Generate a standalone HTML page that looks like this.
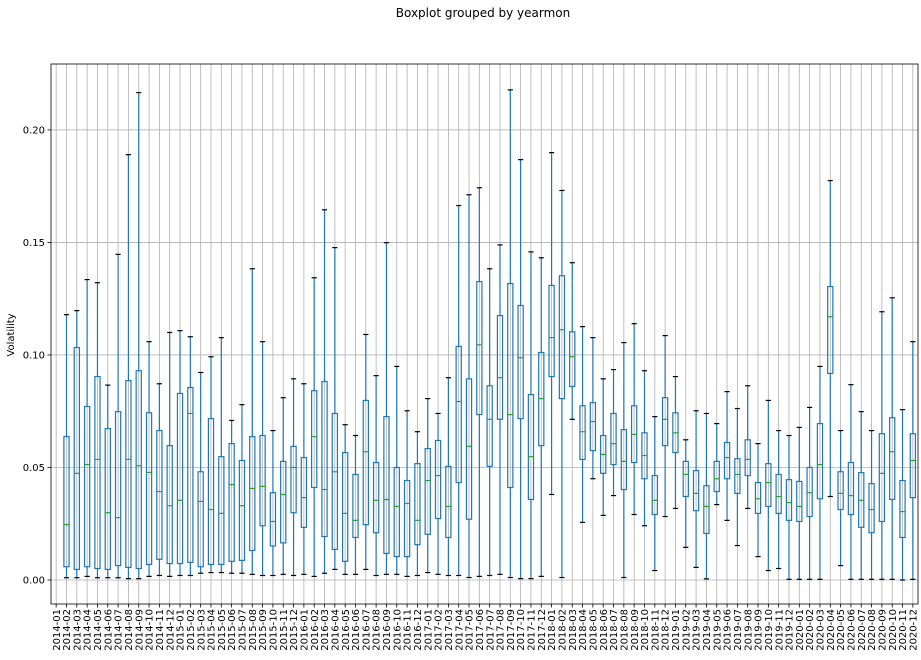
<!DOCTYPE html>
<html><head><meta charset="utf-8"><style>
html,body{margin:0;padding:0;background:#fff;}
svg{display:block;font-family:"DejaVu Sans","Liberation Sans",sans-serif;}
</style></head><body>
<svg id="chart" width="921" height="660" viewBox="0 0 921 660" xmlns="http://www.w3.org/2000/svg">
<text x="483" y="17" font-size="12" text-anchor="middle">Boxplot grouped by yearmon</text>
<text transform="translate(14,335) rotate(-90)" font-size="10" text-anchor="middle">Volatility</text>
<g id="grid"></g><g id="boxes"></g><g id="axes"></g>
</svg>
<script>
// Category index 0 (2014-01) has no data
const whiskerHigh = [null,0.1179,0.1197,0.1335,0.1321,0.0866,0.1447,0.1890,0.2166,0.1059,0.0872,0.1100,0.1108,0.1081,0.0922,0.0992,0.1077,0.0709,0.0779,0.1383,0.1059,0.0664,0.0810,0.0894,0.0872,0.1343,0.1645,0.1477,0.0690,0.0642,0.1091,0.0908,0.1499,0.0949,0.0752,0.0659,0.0806,0.0740,0.0899,0.1664,0.1712,0.1743,0.1383,0.1489,0.2178,0.1868,0.1458,0.1432,0.1899,0.1731,0.1410,0.1126,0.1077,0.0894,0.0935,0.1055,0.1139,0.0930,0.0726,0.1086,0.0904,0.0623,0.0752,0.0740,0.0695,0.0837,0.0762,0.0863,0.0606,0.0798,0.0664,0.0642,0.0678,0.0767,0.0949,0.1775,0.0664,0.0868,0.0748,0.0664,0.1192,0.1254,0.0757,0.1059];
const q3Values = [null,0.0637,0.1033,0.0771,0.0904,0.0673,0.0748,0.0886,0.0930,0.0743,0.0664,0.0597,0.0829,0.0855,0.0481,0.0717,0.0548,0.0606,0.0531,0.0637,0.0642,0.0388,0.0527,0.0594,0.0544,0.0841,0.0882,0.0740,0.0566,0.0469,0.0798,0.0522,0.0726,0.0500,0.0442,0.0517,0.0584,0.0620,0.0505,0.1038,0.0894,0.1326,0.0863,0.1175,0.1317,0.1220,0.0824,0.1011,0.1309,0.1352,0.1103,0.0774,0.0788,0.0642,0.0740,0.0668,0.0774,0.0654,0.0464,0.0810,0.0743,0.0527,0.0486,0.0419,0.0527,0.0611,0.0539,0.0623,0.0433,0.0517,0.0469,0.0446,0.0438,0.0500,0.0695,0.1304,0.0481,0.0522,0.0477,0.0428,0.0650,0.0721,0.0442,0.0650];
const medianValues = [null,0.0246,0.0474,0.0513,0.0536,0.0299,0.0277,0.0536,0.0508,0.0478,0.0393,0.0330,0.0354,0.0740,0.0349,0.0313,0.0296,0.0424,0.0330,0.0407,0.0416,0.0260,0.0380,0.0500,0.0366,0.0637,0.0402,0.0481,0.0296,0.0265,0.0570,0.0354,0.0358,0.0327,0.0340,0.0265,0.0442,0.0464,0.0327,0.0793,0.0594,0.1045,0.0714,0.0899,0.0735,0.0988,0.0548,0.0806,0.1077,0.1112,0.0992,0.0659,0.0704,0.0558,0.0606,0.0527,0.0647,0.0553,0.0354,0.0714,0.0654,0.0469,0.0385,0.0327,0.0450,0.0544,0.0469,0.0536,0.0361,0.0433,0.0371,0.0344,0.0327,0.0388,0.0513,0.1170,0.0385,0.0375,0.0354,0.0313,0.0474,0.0570,0.0304,0.0531];
const q1Values = [null,0.0059,0.0047,0.0059,0.0051,0.0047,0.0064,0.0056,0.0051,0.0069,0.0092,0.0073,0.0073,0.0078,0.0059,0.0069,0.0069,0.0083,0.0087,0.0131,0.0241,0.0151,0.0165,0.0299,0.0234,0.0411,0.0193,0.0136,0.0083,0.0189,0.0246,0.0210,0.0118,0.0104,0.0104,0.0157,0.0203,0.0273,0.0189,0.0433,0.0270,0.0735,0.0505,0.0714,0.0411,0.0717,0.0358,0.0597,0.0904,0.0806,0.0860,0.0536,0.0575,0.0474,0.0513,0.0402,0.0522,0.0450,0.0291,0.0597,0.0566,0.0371,0.0308,0.0207,0.0393,0.0450,0.0385,0.0464,0.0296,0.0327,0.0296,0.0265,0.0260,0.0282,0.0361,0.0918,0.0313,0.0291,0.0234,0.0210,0.0260,0.0358,0.0189,0.0366];
const whiskerLow = [null,0.0010,0.0010,0.0016,0.0010,0.0010,0.0010,0.0006,0.0006,0.0016,0.0020,0.0016,0.0020,0.0020,0.0030,0.0033,0.0033,0.0030,0.0030,0.0025,0.0020,0.0020,0.0025,0.0020,0.0025,0.0016,0.0030,0.0047,0.0025,0.0025,0.0047,0.0020,0.0025,0.0025,0.0016,0.0020,0.0033,0.0025,0.0020,0.0020,0.0011,0.0016,0.0020,0.0025,0.0011,0.0006,0.0006,0.0016,0.0380,0.0011,0.0714,0.0256,0.0450,0.0287,0.0375,0.0011,0.0291,0.0241,0.0042,0.0282,0.0318,0.0145,0.0056,0.0005,0.0335,0.0265,0.0153,0.0318,0.0104,0.0042,0.0051,0.0003,0.0003,0.0003,0.0003,0.0371,0.0064,0.0003,0.0003,0.0003,0.0003,0.0003,0.0000,0.0003];
const yTickValues = [0.00,0.05,0.10,0.15,0.20];
const yTickLabels = ["0.00","0.05","0.10","0.15","0.20"];

const NS="http://www.w3.org/2000/svg";
const L=51,R=918,T=64,B=604;
const categories=[];
for(let y=2014;y<=2020;y++)for(let m=1;m<=12;m++)categories.push(y+"-"+String(m).padStart(2,"0"));
const n=categories.length, step=(R-L)/n;
const xScale=i=>L+step*(i+0.5);
const yMin=-0.01067,yMax=0.2293;
const yScale=v=>B-(v-yMin)/(yMax-yMin)*(B-T);
function mk(tag,attrs,parent){const e=document.createElementNS(NS,tag);for(const k in attrs)e.setAttribute(k,attrs[k]);parent.appendChild(e);return e;}
const grid=document.getElementById("grid"),boxes=document.getElementById("boxes"),axes=document.getElementById("axes");
categories.forEach((c,i)=>{
  const x=xScale(i);
  const gl=mk("line",{x1:x,x2:x,y1:T,y2:B,stroke:"#b0b0b0","stroke-width":0.8},grid);
  
  
  const tk=mk("line",{x1:x,x2:x,y1:B,y2:B+3.5,stroke:"#000","stroke-width":0.8},axes);
  
  
  const t=mk("text",{transform:`translate(${x+3.6},${B+5}) rotate(-90)`,"font-size":10,"text-anchor":"end"},axes);
  t.textContent=c;
  
  
});
yTickValues.forEach((v,k)=>{
  const y=yScale(v);
  const gl=mk("line",{x1:L,x2:R,y1:y,y2:y,stroke:"#b0b0b0","stroke-width":0.8},grid);
  
  
  const tk=mk("line",{x1:L-3.5,x2:L,y1:y,y2:y,stroke:"#000","stroke-width":0.8},axes);
  
  
  const t=mk("text",{x:L-6,y:y+3.6,"font-size":10,"text-anchor":"end"},axes);
  t.textContent=yTickLabels[k];
  
  
});
const bw=step*0.5,cw=step*0.25;
categories.forEach((c,i)=>{
  if(medianValues[i]==null)return;
  const x=xScale(i);
  const g=mk("g",{},boxes);
  
  
  const yh=yScale(whiskerHigh[i]),y3=yScale(q3Values[i]),ym=yScale(medianValues[i]),y1=yScale(q1Values[i]),yl=yScale(whiskerLow[i]);
  mk("line",{x1:x,x2:x,y1:yh,y2:y3,stroke:"#1f77b4","stroke-width":1.2},g);
  mk("line",{x1:x,x2:x,y1:y1,y2:yl,stroke:"#1f77b4","stroke-width":1.2},g);
  mk("rect",{x:x-bw/2,y:y3,width:bw,height:Math.max(0.5,y1-y3),fill:"none",stroke:"#1f77b4","stroke-width":1.2},g);
  mk("line",{x1:x-bw/2,x2:x+bw/2,y1:ym,y2:ym,stroke:"#2ca02c","stroke-width":1.2},g);
  mk("line",{x1:x-cw,x2:x+cw,y1:yh,y2:yh,stroke:"#000","stroke-width":1.2},g);
  mk("line",{x1:x-cw,x2:x+cw,y1:yl,y2:yl,stroke:"#000","stroke-width":1.2},g);
});
const frame=mk("rect",{x:L,y:T,width:R-L,height:B-T,fill:"none",stroke:"#000","stroke-width":0.8},axes);


</script>
</body></html>
